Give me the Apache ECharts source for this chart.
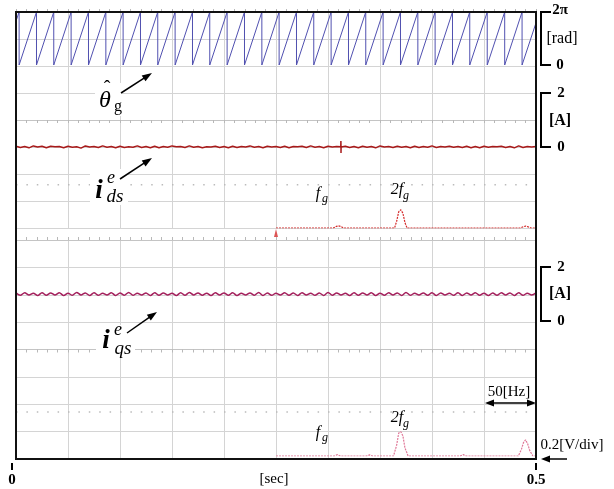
<!DOCTYPE html>
<html><head><meta charset="utf-8">
<script src="https://cdn.jsdelivr.net/npm/echarts@6/dist/echarts.min.js"></script>
<style>html,body{margin:0;padding:0;background:#fff}#c{width:614px;height:489px}</style>
</head><body><div id="c"></div>
<script>
// ---------------- data ----------------
const T_END = 0.5;                       // [sec]
const timeTickLabels = ['0', '0.5'];
const TWO_PI = 2 * Math.PI;
// estimated-angle sawtooth: instants where theta resets 2pi -> 0
const sawResets = [0.003, 0.0197, 0.0363, 0.053, 0.0697, 0.0864, 0.103, 0.1197, 0.1363, 0.153,
  0.1697, 0.1863, 0.203, 0.2197, 0.2364, 0.253, 0.2697, 0.2863, 0.303, 0.3197,
  0.3363, 0.353, 0.3697, 0.3864, 0.403, 0.4197, 0.4363, 0.4531, 0.4699, 0.4866];
const sawStartEnd = [5.2, 5.0];          // theta at t=0 and t=0.5 [rad]
// d-axis current [A], evenly sampled over 0..0.5 s
const idsValues = [0.03,-0.02,0.02,-0.03,0.04,0.00,0.03,-0.03,0.03,0.01,
  0.02,-0.03,0.03,-0.01,0.01,-0.04,0.04,0.00,0.02,-0.02,
  0.04,-0.01,0.02,-0.03,0.03,-0.02,0.01,-0.01,0.04,-0.02,
  0.02,-0.03,0.03,-0.03,0.02,-0.01,0.04,0.01,0.02,-0.02,
  0.04,-0.01,0.02,-0.03,0.01,0.00,0.03,-0.02,0.02,-0.03,
  0.03,-0.02,0.02,0.00,0.04,-0.01,0.02,-0.03,0.03,0.00,
  0.02,-0.02,0.03,-0.03,0.02,0.01,0.03,-0.02,0.04,-0.01,
  0.02,-0.03,0.03,0.00,0.02,-0.01,0.03,-0.02,0.02,-0.03,
  0.03,-0.01,0.02,-0.03,0.04,0.00,0.02,-0.02,0.03,-0.01,
  0.02,-0.03,0.03,-0.02,0.02,-0.01,0.04,-0.02,0.02,0.00,
  0.03,-0.01,0.02,-0.02,0.03,-0.03,0.02,-0.03,0.03,-0.01,
  0.02,0.01,0.03,-0.02,0.02,-0.03,0.04,-0.02,0.02,0.00,
  0.02];
const idsSpike = [[0.3123, 0.01], [0.3124, 0.22], [0.3125, -0.22], [0.3126, 0.0]];   // [t, A]
// q-axis current [A], evenly sampled over 0..0.5 s (120 Hz ripple)
const iqsValues = [1.06,0.97,1.07,0.98,1.05,0.96,1.07,0.97,1.06,0.98,
  1.07,0.96,1.05,0.97,1.08,0.98,1.06,0.96,1.07,0.97,
  1.05,0.98,1.07,0.96,1.06,0.97,1.08,0.97,1.05,0.98,
  1.06,0.96,1.07,0.97,1.06,0.98,1.05,0.96,1.07,0.97,
  1.08,0.98,1.06,0.97,1.05,0.96,1.07,0.98,1.06,0.97,
  1.07,0.96,1.05,0.98,1.06,0.97,1.08,0.96,1.06,0.97,
  1.05,0.98,1.07,0.97,1.06,0.96,1.07,0.98,1.05,0.97,
  1.06,0.96,1.08,0.97,1.06,0.98,1.05,0.96,1.07,0.97,
  1.06,0.98,1.07,0.96,1.05,0.97,1.07,0.98,1.06,0.96,
  1.08,0.97,1.05,0.98,1.06,0.97,1.07,0.96,1.06,0.98,
  1.05,0.97,1.07,0.96,1.06,0.98,1.07,0.97,1.05,0.96,
  1.06,0.97,1.07,0.98,1.06,0.96,1.07,0.97,1.05,0.98,
  1.06];
// FFT of ids: frequency [Hz] and amplitude [V] (0.2 V/div)
const spec1Freq = [0, 55, 58, 60, 62, 65, 114, 116, 118, 120, 122, 124, 126, 235, 238, 240, 242, 245, 250];
const spec1Amp  = [0, 0, 0.012, 0.016, 0.012, 0, 0, 0.05, 0.12, 0.135, 0.11, 0.04, 0, 0, 0.01, 0.014, 0.01, 0, 0];
const spec1Marker = [[0, 0]];
// FFT of iqs
const spec2Freq = [0, 56, 59, 62, 87, 90, 93, 113, 116, 118, 120, 122, 124, 127, 177, 180, 183, 233, 236, 238, 240, 242, 244, 247, 250];
const spec2Amp  = [0, 0, 0.01, 0, 0, 0.008, 0, 0, 0.08, 0.17, 0.18, 0.15, 0.06, 0, 0, 0.01, 0, 0, 0.05, 0.1, 0.12, 0.09, 0.04, 0, 0];
// faint dotted reference rows of the two scope screens (division units)
const bgDotLevels = [-2.4, -2.28];

// ------------- build series data -------------
const sawData = [[0, sawStartEnd[0]]];
sawResets.forEach(r => { sawData.push([r, TWO_PI]); sawData.push([r, 0]); });
sawData.push([T_END, sawStartEnd[1]]);
const idsData = idsValues.map((v, i) => [i * T_END / (idsValues.length - 1), v]).concat(idsSpike)
  .sort((a, b) => a[0] - b[0]);
const iqsData = iqsValues.map((v, i) => [i * T_END / (iqsValues.length - 1), v]);
const spec1Data = spec1Freq.map((f, i) => [f, spec1Amp[i]]);
const spec2Data = spec2Freq.map((f, i) => [f, spec2Amp[i]]);

const SERIF = '"Liberation Serif","Times New Roman",serif';
const GRID_C = '#d4d4d4';

function bgX(grid, pos) {
  return {type: 'value', gridIndex: grid, min: 0, max: T_END, interval: 0.05, position: pos,
    axisLine: {show: true, onZero: true, lineStyle: {color: '#c4c4c4', width: 1}},
    axisTick: {show: true, length: 3, lineStyle: {color: '#b8b8b8'}},
    minorTick: {show: true, splitNumber: 5, length: 3, lineStyle: {color: '#b8b8b8'}},
    axisLabel: {show: false},
    splitLine: {show: pos === 'bottom', lineStyle: {color: GRID_C, width: 1}}};
}
function bgY(grid) {
  return {type: 'value', gridIndex: grid, min: -4, max: 4, interval: 1,
    axisLine: {show: false}, axisTick: {show: false}, axisLabel: {show: false},
    splitLine: {show: true, lineStyle: {color: GRID_C, width: 1}}};
}
function hidX(grid, min, max) {
  return {type: 'value', gridIndex: grid, min, max, show: false, splitLine: {show: false}};
}
function hidY(grid, min, max) {
  return {type: 'value', gridIndex: grid, min, max, show: false, splitLine: {show: false}};
}
function txt(s, x, y, size, o = {}) {
  return {type: 'text', z: 40, style: {text: s, x, y, fontSize: size, fontFamily: SERIF,
    fontWeight: o.w || 'normal', fontStyle: o.st || 'normal', fill: '#000',
    align: o.a || 'center', verticalAlign: 'middle'}};
}
function arrowHead(x1, y1, x2, y2, hl, hw) {
  const dx = x2 - x1, dy = y2 - y1, L = Math.hypot(dx, dy), ux = dx / L, uy = dy / L;
  const bx = x2 - ux * hl, by = y2 - uy * hl, px = -uy * hw / 2, py = ux * hw / 2;
  return {type: 'polygon', z: 40, shape: {points: [[x2, y2], [bx + px, by + py], [bx - px, by - py]]},
    style: {fill: '#000'}};
}
function arrow(x1, y1, x2, y2, hl = 10, hw = 7, lw = 1.5) {
  const dx = x2 - x1, dy = y2 - y1, L = Math.hypot(dx, dy);
  const bx = x2 - dx / L * (hl - 1), by = y2 - dy / L * (hl - 1);
  return [{type: 'line', z: 40, shape: {x1, y1, x2: bx, y2: by}, style: {stroke: '#000', lineWidth: lw}},
    arrowHead(x1, y1, x2, y2, hl, hw)];
}
function bracket(x, y1, y2) {
  return {type: 'polyline', z: 40, shape: {points: [[x + 10, y1], [x, y1], [x, y2], [x + 10, y2]]},
    style: {stroke: '#000', lineWidth: 2, fill: null}};
}
function white(x, y, w, h) {
  return {type: 'rect', z: 30, shape: {x, y, width: w, height: h}, style: {fill: '#fff'}};
}

const graphic = [
  {type: 'rect', z: 50, shape: {x: 16, y: 12, width: 520, height: 447}, style: {fill: null, stroke: '#111', lineWidth: 2}},
  bracket(541, 12, 65), bracket(541, 93, 147), bracket(541, 267, 321),
  txt('2π', 560, 10, 15, {w: 'bold'}), txt('[rad]', 562, 39, 16), txt('0', 560, 65, 15, {w: 'bold'}),
  txt('2', 561, 93, 15, {w: 'bold'}), txt('[A]', 560, 121, 16, {w: 'bold'}), txt('0', 561, 147, 15, {w: 'bold'}),
  txt('2', 561, 267, 15, {w: 'bold'}), txt('[A]', 560, 294, 16, {w: 'bold'}), txt('0', 561, 321, 15, {w: 'bold'}),
  // theta hat
  white(95, 83, 27, 33),
  txt('θ', 105, 101, 24, {st: 'italic'}), txt('ˆ', 107, 90, 20), txt('g', 118, 107, 16),
  ...arrow(121, 93, 152, 73),
  // i_ds
  white(90, 169, 38, 36),
  txt('i', 99, 191, 27, {st: 'italic', w: 'bold'}), txt('e', 111, 178, 18, {st: 'italic'}), txt('ds', 115, 197, 19, {st: 'italic'}),
  ...arrow(120, 179, 152, 158),
  // i_qs
  white(96, 325, 39, 33),
  txt('i', 106, 341, 27, {st: 'italic', w: 'bold'}), txt('e', 118, 330, 18, {st: 'italic'}), txt('qs', 123, 349, 19, {st: 'italic'}),
  ...arrow(127, 333, 157, 312),
  // harmonic labels
  txt('f', 318, 194, 16, {st: 'italic'}), txt('g', 325, 199, 12, {st: 'italic'}),
  txt('2f', 397, 190, 16, {st: 'italic'}), txt('g', 406, 196, 12, {st: 'italic'}),
  txt('f', 318, 433, 16, {st: 'italic'}), txt('g', 325, 438, 12, {st: 'italic'}),
  txt('2f', 397, 418, 16, {st: 'italic'}), txt('g', 406, 424, 12, {st: 'italic'}),
  // 50 Hz span
  txt('50[Hz]', 509, 392, 15),
  {type: 'line', z: 40, shape: {x1: 492, y1: 403, x2: 529, y2: 403}, style: {stroke: '#000', lineWidth: 1.5}},
  arrowHead(536, 403, 485, 403, 9, 7), arrowHead(485, 403, 536, 403, 9, 7),
  // 0.2 V/div
  txt('0.2[V/div]', 572, 445, 15),
  ...arrow(567, 459, 541, 459, 9, 7)
];

const chart = echarts.init(document.getElementById('c'), null, {renderer: 'canvas'});
chart.setOption({
  animation: false,
  backgroundColor: '#fff',
  grid: [
    {left: 16, top: 12, width: 520, height: 216},     // 0 background screen 1
    {left: 16, top: 240, width: 520, height: 219},    // 1 background screen 2
    {left: 16, top: 12, width: 520, height: 53},      // 2 theta
    {left: 16, top: 92, width: 520, height: 82.5},    // 3 ids
    {left: 16, top: 268, width: 520, height: 53},     // 4 iqs
    {left: 276, top: 174, width: 260, height: 54},    // 5 spectrum ids
    {left: 276, top: 402, width: 260, height: 54},    // 6 spectrum iqs
    {left: 12, top: 462, width: 524, height: 1}       // 7 time axis labels
  ],
  xAxis: [
    bgX(0, 'bottom'), bgX(0, 'top'), bgX(1, 'bottom'), bgX(1, 'top'),
    hidX(2, 0, T_END), hidX(3, 0, T_END), hidX(4, 0, T_END),
    hidX(5, 0, 250), hidX(6, 0, 250),
    {type: 'value', gridIndex: 7, min: 0, max: T_END, interval: T_END,
      axisLine: {show: false}, splitLine: {show: false},
      axisTick: {show: true, length: 7, lineStyle: {color: '#000', width: 2}},
      axisLabel: {show: true, margin: 10, fontSize: 15, fontWeight: 'bold', fontFamily: SERIF, color: '#000',
        formatter: v => (v === 0 ? timeTickLabels[0] : timeTickLabels[1])},
      name: '[sec]', nameLocation: 'middle', nameGap: 9, nameMoveOverlap: false,
      nameTextStyle: {fontSize: 15, fontFamily: SERIF, color: '#000', verticalAlign: 'top'}}
  ],
  yAxis: [
    bgY(0), bgY(1),
    hidY(2, 0, TWO_PI), hidY(3, -1, 2), hidY(4, 0, 2),
    hidY(5, 0, 0.4), hidY(6, 0, 0.4), hidY(7, 0, 1)
  ],
  series: [
    {type: 'line', xAxisIndex: 0, yAxisIndex: 0, data: [[0, bgDotLevels[0]], [T_END, bgDotLevels[0]]],
      symbol: 'none', silent: true, lineStyle: {color: '#bbbbbb', width: 1.5, type: [1.5, 8.9]}},
    {type: 'line', xAxisIndex: 2, yAxisIndex: 1, data: [[0, bgDotLevels[1]], [T_END, bgDotLevels[1]]],
      symbol: 'none', silent: true, lineStyle: {color: '#bbbbbb', width: 1.5, type: [1.5, 8.9]}},
    {type: 'line', xAxisIndex: 4, yAxisIndex: 2, data: sawData, symbol: 'none',
      lineStyle: {color: '#5050b0', width: 1}},
    {type: 'line', xAxisIndex: 5, yAxisIndex: 3, data: idsData, symbol: 'none',
      lineStyle: {color: '#a81a1a', width: 1.5}},
    {type: 'line', xAxisIndex: 6, yAxisIndex: 4, data: iqsData, symbol: 'none', smooth: 0.3,
      lineStyle: {color: '#a3205c', width: 1.5}},
    {type: 'line', xAxisIndex: 7, yAxisIndex: 5, data: spec1Data, symbol: 'none',
      lineStyle: {color: '#d42a2a', width: 1.2, type: [2, 1]}},
    {type: 'scatter', xAxisIndex: 7, yAxisIndex: 5, data: spec1Marker, symbol: 'triangle',
      symbolSize: [4, 8], symbolOffset: [0, 5], itemStyle: {color: '#d42a2a'}},
    {type: 'line', xAxisIndex: 8, yAxisIndex: 6, data: spec2Data, symbol: 'none',
      lineStyle: {color: '#e07898', width: 1.2, type: [2, 1]}},
    {type: 'line', xAxisIndex: 9, yAxisIndex: 7, data: [], symbol: 'none'}
  ],
  graphic: graphic
});
</script>
</body></html>
